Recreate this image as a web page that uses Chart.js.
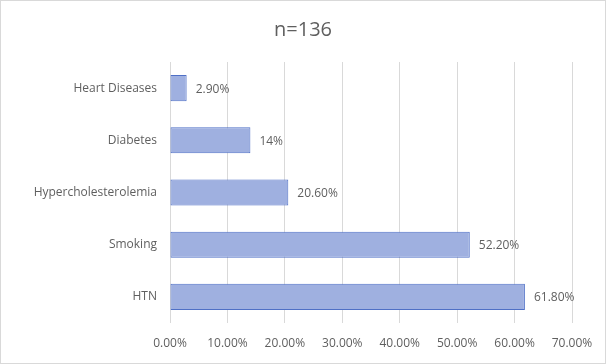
<!DOCTYPE html>
<html>
<head>
<meta charset="utf-8">
<script src="https://cdn.jsdelivr.net/npm/chart.js@4/dist/chart.umd.min.js"></script>
<style>
  html, body { margin: 0; padding: 0; background: #fff; }
  #wrap { width: 606px; height: 364px; position: relative; }
</style>
</head>
<body>
<div id="wrap"><canvas id="chart"></canvas></div>
<script>
const categories = ["Heart Diseases", "Diabetes", "Hypercholesterolemia", "Smoking", "HTN"]
const prevalence = [2.9, 14, 20.6, 52.2, 61.8]
const valueLabels = ["2.90%", "14%", "20.60%", "52.20%", "61.80%"]
const xTicks = [0, 10, 20, 30, 40, 50, 60, 70]
const chartTitle = "n=136"

const textGray = "#5f5f5f"

// bar end labels, drawn after the bars
const valueLabelPlugin = {
  id: "valueLabels",
  afterDatasetsDraw(chart) {
    const ctx = chart.ctx
    const meta = chart.getDatasetMeta(0)
    ctx.save()
    ctx.font = "12px 'Open Sans', sans-serif"
    ctx.fillStyle = textGray
    ctx.textAlign = "left"
    ctx.textBaseline = "middle"
    meta.data.forEach((bar, i) => {
      ctx.fillText(valueLabels[i], bar.x + 9, bar.y + 1)
    })
    ctx.restore()
  }
}

// frame + title centred on the whole canvas (built-in title follows the right padding)
const framePlugin = {
  id: "frame",
  beforeDraw(chart) {
    const ctx = chart.ctx
    ctx.save()
    ctx.fillStyle = "#ffffff"
    ctx.fillRect(0, 0, chart.width, chart.height)
    ctx.strokeStyle = "#d9d9d9"
    ctx.lineWidth = 1
    ctx.strokeRect(0.5, 0.5, chart.width - 1, chart.height - 1)
    ctx.font = "20px 'Open Sans', sans-serif"
    ctx.fillStyle = textGray
    ctx.textAlign = "center"
    ctx.textBaseline = "middle"
    ctx.fillText(chartTitle, chart.width / 2, 30)
    ctx.restore()
  }
}

function barFill(context) {
  const chart = context.chart
  const el = context.element
  if (!chart.chartArea || !el || el.y === undefined) return "#9fb0e0"
  const h = el.height || 26
  const g = chart.ctx.createLinearGradient(0, el.y - h / 2, 0, el.y + h / 2)
  g.addColorStop(0, "#b0bfea")
  g.addColorStop(0.5, "#9fb0e3")
  g.addColorStop(1, "#879cda")
  return g
}

new Chart(document.getElementById("chart"), {
  type: "bar",
  data: {
    labels: categories,
    datasets: [{
      data: prevalence,
      backgroundColor: barFill,
      borderColor: "#4f70c6",
      borderWidth: 1,
      borderSkipped: false,
      categoryPercentage: 1,
      barPercentage: 0.5
    }]
  },
  options: {
    indexAxis: "y",
    responsive: true,
    maintainAspectRatio: false,
    animation: false,
    devicePixelRatio: 1,
    layout: { padding: { left: 0, right: 34, top: 62, bottom: 0 } },
    plugins: {
      legend: { display: false },
      tooltip: { enabled: false },
      title: { display: false }
    },
    scales: {
      x: {
        min: 0,
        max: 70,
        afterBuildTicks: (axis) => { axis.ticks = xTicks.map(v => ({ value: v })) },
        afterFit: (axis) => { axis.height = 41 },
        grid: { color: "#d9d9d9", drawTicks: false },
        border: { display: false },
        ticks: {
          color: textGray,
          padding: 13,
          font: { family: "'Open Sans', sans-serif", size: 12 },
          callback: (v) => v.toFixed(2) + "%"
        }
      },
      y: {
        afterFit: (axis) => { axis.width = 170 },
        grid: { display: false, drawTicks: false },
        border: { display: false },
        ticks: {
          color: textGray,
          padding: 13,
          font: { family: "'Open Sans', sans-serif", size: 12 }
        }
      }
    }
  },
  plugins: [framePlugin, valueLabelPlugin]
})
</script>
</body>
</html>
